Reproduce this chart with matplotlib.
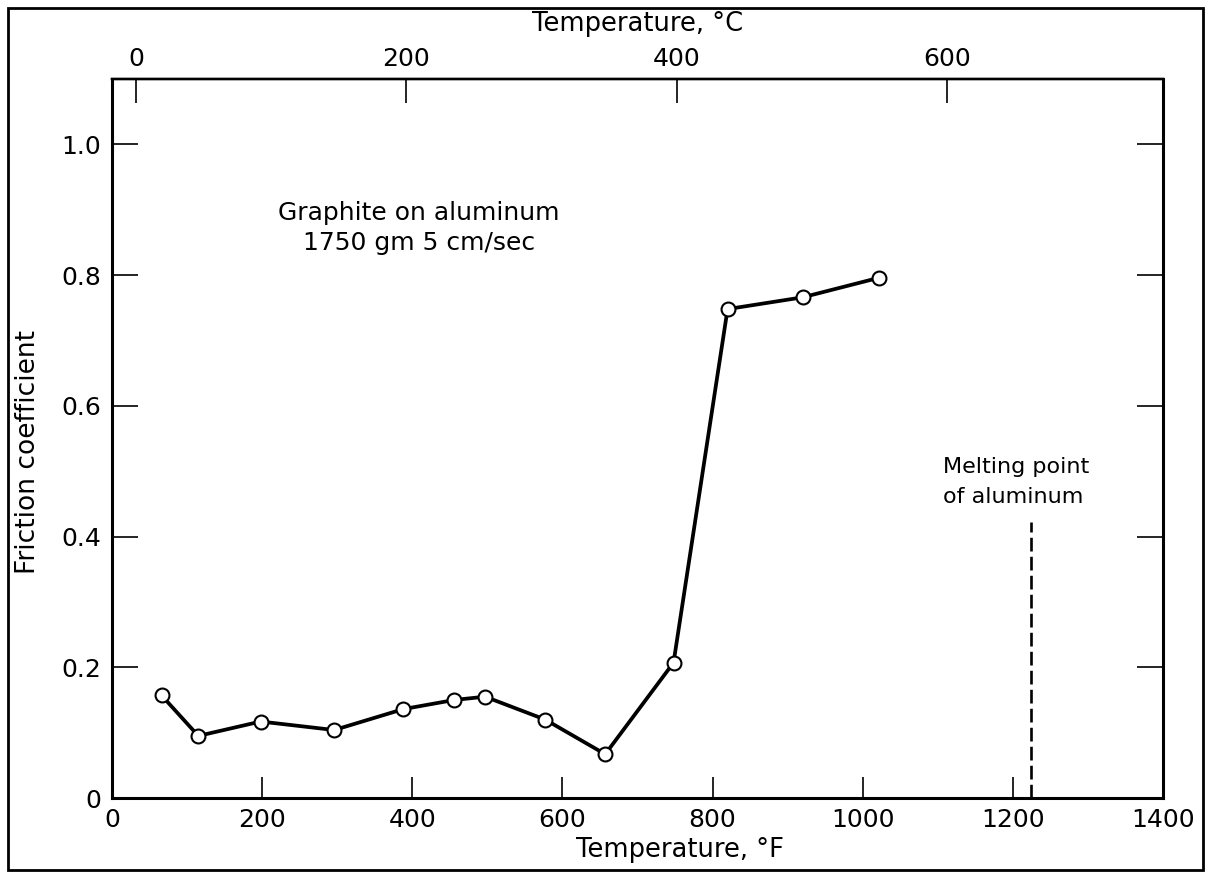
import matplotlib
matplotlib.use("Agg")
import matplotlib.pyplot as plt
from matplotlib.patches import Rectangle

# Data
temp_F = [66, 115, 198, 296, 388, 456, 497, 577, 657, 748, 820, 920, 1022]
friction = [0.157, 0.095, 0.117, 0.104, 0.136, 0.150, 0.155, 0.120, 0.067, 0.207, 0.748, 0.766, 0.796]
melting_F = 1224
melting_top = 0.423
x_ticks_F = [0, 200, 400, 600, 800, 1000, 1200, 1400]
y_ticks = [0, 0.2, 0.4, 0.6, 0.8, 1.0]
y_tick_labels = ["0", "0.2", "0.4", "0.6", "0.8", "1.0"]
x_ticks_C = [0, 200, 400, 600]

plt.rcParams['font.family'] = ['DejaVu Sans']

fig = plt.figure(figsize=(12.1, 8.72), dpi=100)
ax = fig.add_axes([112/1210, 1-798/872, (1163-112)/1210, (798-79)/872])

ax.plot(temp_F, friction, color='black', lw=2.7, marker='o', ms=10,
        mfc='white', mec='black', mew=1.5, zorder=3)
ax.plot([melting_F, melting_F], [0, melting_top], color='black', lw=1.9,
        dashes=(5.2, 2.0))

ax.set_xlim(0, 1400)
ax.set_ylim(0, 1.1)
ax.set_xticks(x_ticks_F)
ax.set_xticklabels([str(v) for v in x_ticks_F])
ax.set_yticks(y_ticks)
ax.set_yticklabels(y_tick_labels)

ax.tick_params(axis='x', direction='in', length=15, width=1.2, pad=7,
               labelsize=18, top=False)
ax.tick_params(axis='y', direction='in', length=19, width=1.2, pad=8,
               labelsize=18, right=True)
for s in ax.spines.values():
    s.set_linewidth(2.2)
ax.spines['top'].set_linewidth(1.7)

ax.set_xlabel("Temperature, °F", fontsize=18.5, va='center')
ax.xaxis.set_label_coords((680-112)/1051, (798-850)/719)
ax.set_ylabel("Friction coefficient", fontsize=19, va='center')
ax.yaxis.set_label_coords((28-112)/1051, (798-452)/719)

f2c = lambda f: (f - 32) * 5 / 9
c2f = lambda c: c * 9 / 5 + 32
sec = ax.secondary_xaxis('top', functions=(f2c, c2f))
sec.set_xticks(x_ticks_C)
sec.set_xticklabels([str(v) for v in x_ticks_C])
sec.tick_params(direction='in', length=17, width=1.2, pad=6, labelsize=18)
sec.spines['top'].set_linewidth(1.7)
sec.set_xlabel("Temperature, °C", fontsize=18.5, labelpad=11)

ax.text(409, 0.895, "Graphite on aluminum", ha='center', va='center', fontsize=18)
ax.text(409, 0.849, "1750 gm 5 cm/sec", ha='center', va='center', fontsize=18)
ax.text(1107, 0.506, "Melting point", ha='left', va='center', fontsize=16)
ax.text(1107, 0.460, "of aluminum", ha='left', va='center', fontsize=16)

fig.patches.append(Rectangle((8/1210, 1-870/872), (1203-8)/1210, (870-8)/872,
                             transform=fig.transFigure, fill=False,
                             edgecolor='black', lw=2.0))

fig.savefig("out.png", dpi=100)
